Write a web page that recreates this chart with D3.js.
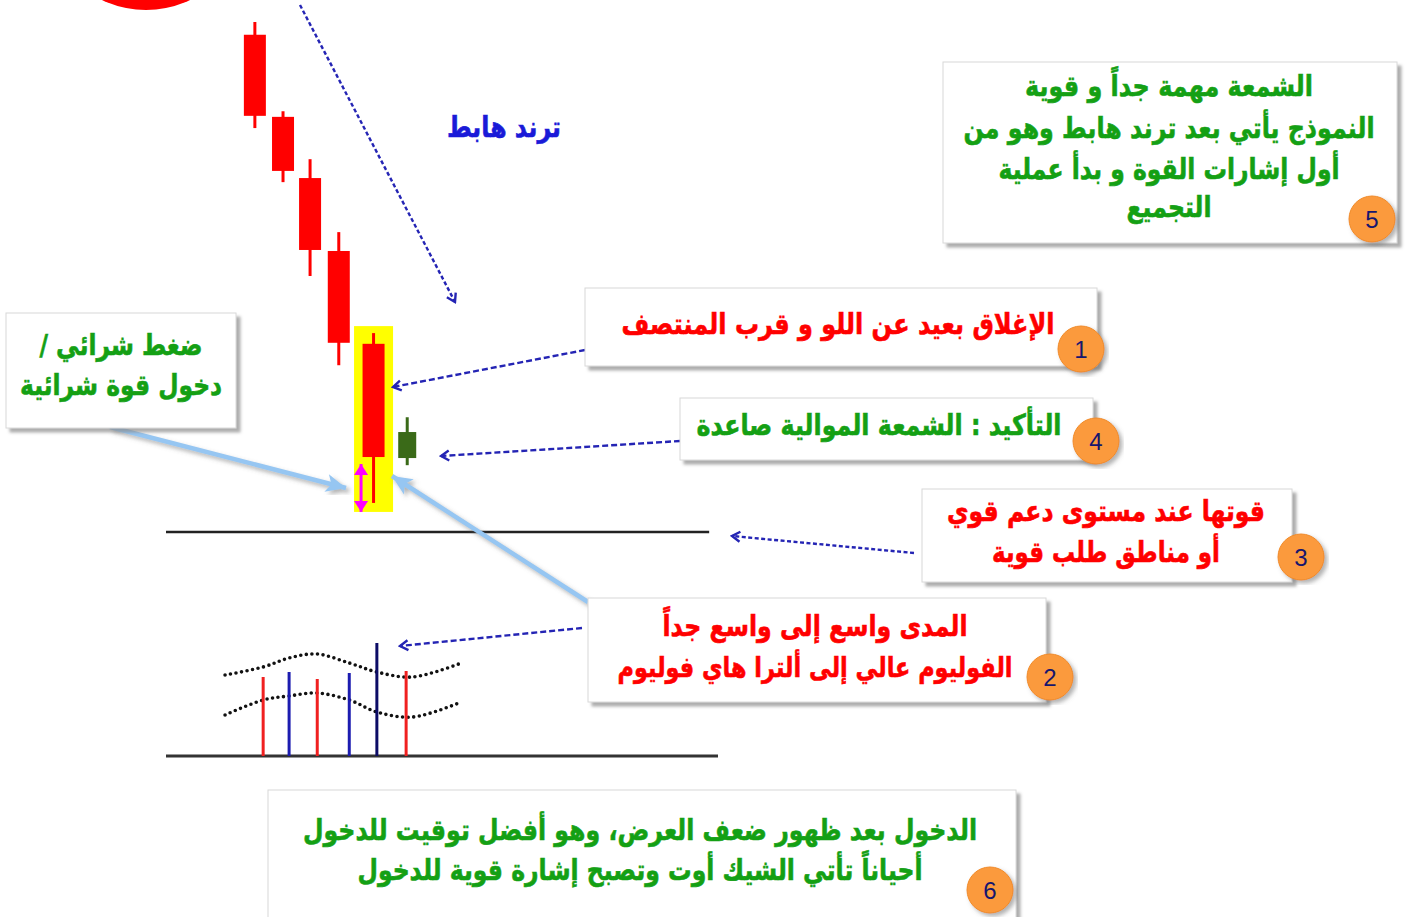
<!DOCTYPE html>
<html>
<head>
<meta charset="utf-8">
<script src="https://cdn.jsdelivr.net/npm/d3@7"></script>
<style>
  body { margin: 0; background: #fff; }
  svg { display: block; }
  .ar { font-family: "DejaVu Sans", sans-serif; font-weight: bold; }
  .num { font-family: "Liberation Sans", Arial, sans-serif; }
</style>
</head>
<body>
<div id="chart"></div>
<script>
// candles (price units, 0 = support line)
const candleX = [16.1, 21.2, 26.1, 31.3, 37.6, 43.7];
const candleOpen = [97.5, 81.4, 69.4, 55.1, 36.9, 14.5];
const candleHigh = [100, 82.5, 73.1, 58.8, 39.0, 22.5];
const candleLow = [79.2, 68.6, 50.2, 32.7, 5.7, 13.1];
const candleClose = [81.6, 70.8, 55.3, 37.1, 14.7, 19.6];

// volume bars
const volX = [17.6, 22.3, 27.4, 33.2, 38.2, 43.5];
const volValues = [79, 84, 77, 83, 113, 85];
const volType = ['down', 'up', 'down', 'up', 'ultra', 'down'];

// dotted bands over the volume
const bandX = [10.7, 17.6, 22.3, 27.3, 33.2, 38.2, 44.7, 53.5];
const bandUpper = [81, 89, 98, 102, 93, 84, 79, 93];
const bandLower = [41, 56, 60, 63, 56, 44, 39, 54];

// texts
const trendLabel = 'ترند هابط';
const note5 = ['الشمعة مهمة جداً و قوية', 'النموذج يأتي بعد ترند هابط وهو من', 'أول إشارات القوة و بدأ عملية', 'التجميع'];
const note1 = ['الإغلاق بعيد عن اللو و قرب المنتصف'];
const note4 = ['التأكيد : الشمعة الموالية صاعدة'];
const note3 = ['قوتها عند مستوى دعم قوي', 'أو مناطق طلب قوية'];
const note2 = ['المدى واسع إلى واسع جداً', 'الفوليوم عالي إلى ألترا هاي فوليوم'];
const noteL = ['ضغط شرائي /', 'دخول قوة شرائية'];
const note6 = ['الدخول بعد ظهور ضعف العرض، وهو أفضل توقيت للدخول', 'أحياناً تأتي الشيك أوت وتصبح إشارة قوية للدخول'];

const W = 1410, H = 917;
const svg = d3.select('#chart').append('svg')
    .attr('width', W).attr('height', H)
    .attr('viewBox', '0 0 ' + W + ' ' + H);

const defs = svg.append('defs');
defs.append('filter').attr('id', 'shadow')
    .attr('x', '-5%').attr('y', '-5%').attr('width', '115%').attr('height', '125%')
    .append('feDropShadow')
    .attr('dx', 4).attr('dy', 4).attr('stdDeviation', 1.5)
    .attr('flood-color', '#8a8a8a').attr('flood-opacity', 0.7);
defs.append('filter').attr('id', 'soft')
    .append('feDropShadow')
    .attr('dx', 3).attr('dy', 3).attr('stdDeviation', 2)
    .attr('flood-color', '#666').attr('flood-opacity', 0.5);

defs.append('marker').attr('id', 'chev')
    .attr('viewBox', '-10 -7 12 14').attr('markerWidth', 12).attr('markerHeight', 14)
    .attr('markerUnits', 'userSpaceOnUse').attr('orient', 'auto').attr('refX', 0).attr('refY', 0)
    .append('path').attr('d', 'M-8,-5 L0,0 L-8,5')
    .attr('fill', 'none').attr('stroke', '#2424b4').attr('stroke-width', 2.4);
defs.append('marker').attr('id', 'fat')
    .attr('viewBox', '-22 -11 24 22').attr('markerWidth', 24).attr('markerHeight', 22)
    .attr('markerUnits', 'userSpaceOnUse').attr('orient', 'auto').attr('refX', 0).attr('refY', 0)
    .append('path').attr('d', 'M-20,-9 L0,0 L-20,9 L-15,0 Z').attr('fill', '#96c6f2');
defs.append('marker').attr('id', 'mag')
    .attr('viewBox', '-12 -8 14 16').attr('markerWidth', 14).attr('markerHeight', 16)
    .attr('markerUnits', 'userSpaceOnUse').attr('orient', 'auto-start-reverse').attr('refX', 0).attr('refY', 0)
    .append('path').attr('d', 'M-11,-7 L0,0 L-11,7 Z').attr('fill', '#ff00ff');

// scales
const x = d3.scaleLinear().domain([0, 100]).range([166, 718]);
const y = d3.scaleLinear().domain([0, 100]).range([532, 22]);
const yv = d3.scaleLinear().domain([0, 120]).range([756, 636]);

// red disc cut by the top edge
svg.append('circle').attr('cx', 146).attr('cy', -92).attr('r', 102).attr('fill', '#ff0000');

const candles = candleX.map((cx, i) => ({
    x: cx, open: candleOpen[i], high: candleHigh[i], low: candleLow[i], close: candleClose[i]
}));
const key = candles[4];

// yellow highlight behind the key candle
svg.append('rect')
    .attr('x', x(key.x) - 19.5).attr('width', 39)
    .attr('y', y(key.high) - 7).attr('height', y(key.low) - y(key.high) + 16)
    .attr('fill', '#ffff00');

const cg = svg.append('g').selectAll('g').data(candles).enter().append('g');
cg.append('line')
    .attr('x1', d => x(d.x)).attr('x2', d => x(d.x))
    .attr('y1', d => y(d.high)).attr('y2', d => y(d.low))
    .attr('stroke', d => d.close > d.open ? '#3a6a18' : '#ff0000')
    .attr('stroke-width', 3);
cg.append('rect')
    .attr('x', (d, i) => x(d.x) - (d.close > d.open ? 9 : 11))
    .attr('width', d => d.close > d.open ? 18 : 22)
    .attr('y', d => y(Math.max(d.open, d.close)))
    .attr('height', d => Math.abs(y(d.open) - y(d.close)))
    .attr('fill', d => d.close > d.open ? '#3a6a18' : '#ff0000');

// magenta double arrow marking the lower wick
svg.append('line')
    .attr('x1', x(key.x) - 12.5).attr('x2', x(key.x) - 12.5)
    .attr('y1', y(key.close) + 7).attr('y2', y(key.low) + 9)
    .attr('stroke', '#ff00ff').attr('stroke-width', 3)
    .attr('marker-start', 'url(#mag)').attr('marker-end', 'url(#mag)');

// support line and volume baseline
svg.append('line').attr('x1', x(0)).attr('x2', x(98.4)).attr('y1', y(0)).attr('y2', y(0))
    .attr('stroke', '#222').attr('stroke-width', 2.5);
svg.append('line').attr('x1', x(0)).attr('x2', x(100)).attr('y1', yv(0)).attr('y2', yv(0))
    .attr('stroke', '#333').attr('stroke-width', 3);

// volume bands
const band = d3.line().x(d => x(d[0])).y(d => yv(d[1])).curve(d3.curveCatmullRom);
[bandUpper, bandLower].forEach(vals => {
    svg.append('path')
        .attr('d', band(bandX.map((bx, i) => [bx, vals[i]])))
        .attr('fill', 'none').attr('stroke', '#111').attr('stroke-width', 3.6)
        .attr('stroke-linecap', 'round').attr('stroke-dasharray', '0 5.6');
});

const volColor = { down: '#f02020', up: '#1c1cb0', ultra: '#0c0c66' };
svg.append('g').selectAll('line').data(volX).enter().append('line')
    .attr('x1', d => x(d)).attr('x2', d => x(d))
    .attr('y1', yv(0)).attr('y2', (d, i) => yv(volValues[i]))
    .attr('stroke', (d, i) => volColor[volType[i]]).attr('stroke-width', 3);

// arrows
function dashed(x1, y1, x2, y2, dash) {
    svg.append('line').attr('x1', x1).attr('y1', y1).attr('x2', x2).attr('y2', y2)
        .attr('stroke', '#2424b4').attr('stroke-width', 2.4)
        .attr('stroke-dasharray', dash || '6,3')
        .attr('marker-end', 'url(#chev)');
}
dashed(300, 5, 455, 302, '4,2.5');
dashed(585, 350, 393, 387);
dashed(680, 441, 441, 456);
dashed(914, 553, 732, 536, '4,2.5');
dashed(582, 628, 400, 646);

function fatArrow(x1, y1, x2, y2) {
    svg.append('line').attr('x1', x1).attr('y1', y1).attr('x2', x2).attr('y2', y2)
        .attr('stroke', '#96c6f2').attr('stroke-width', 4.5)
        .attr('marker-end', 'url(#fat)').attr('filter', 'url(#soft)');
}
fatArrow(110, 427, 346, 488);
fatArrow(588, 602, 392, 476);

// arabic line fitted to the width measured on the picture:
// font shrunk until its natural width fits, then stretched back up vertically
function arLine(parent, str, cx, base, w, color) {
    const size = 29;
    const g = parent.append('g');
    const t = g.append('text').attr('class', 'ar')
        .attr('x', 0).attr('y', 0)
        .attr('text-anchor', 'middle').attr('direction', 'rtl')
        .attr('font-size', size).attr('fill', color)
        .attr('stroke', color).attr('stroke-width', 0.6)
        .text(str);
    const natural = t.node().getComputedTextLength();
    const f = size * Math.min(1, w / natural);
    const sy = Math.min(size / f, 1.25);
    t.attr('font-size', f).attr('stroke-width', 0.6 / sy)
        .attr('textLength', w).attr('lengthAdjust', 'spacingAndGlyphs');
    g.attr('transform', 'translate(' + cx + ',' + base + ') scale(1,' + sy + ')');
}

arLine(svg, trendLabel, 504, 137, 114, '#1a1ad8');

// note boxes
const boxes = [
    { lines: note5, color: '#14a014', box: [943, 62, 454, 181], cx: 1169,
      base: [96, 138, 179, 217], w: [288, 411, 341, 85], badge: [1372, 219, '5'] },
    { lines: note1, color: '#ff0000', box: [585, 288, 512, 78], cx: 838,
      base: [334], w: [433], badge: [1081, 349, '1'] },
    { lines: note4, color: '#14a014', box: [680, 398, 413, 62], cx: 879,
      base: [435], w: [365], badge: [1096, 441, '4'] },
    { lines: note3, color: '#ff0000', box: [922, 489, 370, 93], cx: 1106,
      base: [521, 562], w: [318, 228], badge: [1301, 557, '3'] },
    { lines: note2, color: '#ff0000', box: [588, 598, 458, 104], cx: 815,
      base: [636, 677], w: [305, 395], badge: [1050, 677, '2'] },
    { lines: noteL, color: '#14a014', box: [6, 313, 230, 115], cx: 121,
      base: [355, 395], w: [163, 202] },
    { lines: note6, color: '#14a014', box: [268, 790, 748, 135], cx: 640,
      base: [840, 880], w: [674, 565], badge: [990, 890, '6'] }
];

boxes.forEach(b => {
    const g = svg.append('g');
    g.append('rect')
        .attr('x', b.box[0]).attr('y', b.box[1]).attr('width', b.box[2]).attr('height', b.box[3])
        .attr('fill', '#fff').attr('stroke', '#d8d8d8').attr('stroke-width', 1)
        .attr('filter', 'url(#shadow)');
    b.lines.forEach((t, i) => arLine(g, t, b.cx, b.base[i], b.w[i], b.color));
    if (b.badge) {
        g.append('circle').attr('cx', b.badge[0]).attr('cy', b.badge[1]).attr('r', 23)
            .attr('fill', '#fb9a3c').attr('stroke', '#f08a28').attr('stroke-width', 1)
            .attr('filter', 'url(#soft)');
        g.append('text').attr('class', 'num')
            .attr('x', b.badge[0]).attr('y', b.badge[1] + 8.5)
            .attr('text-anchor', 'middle').attr('font-size', 24).attr('fill', '#16166e')
            .text(b.badge[2]);
    }
});
</script>
</body>
</html>
